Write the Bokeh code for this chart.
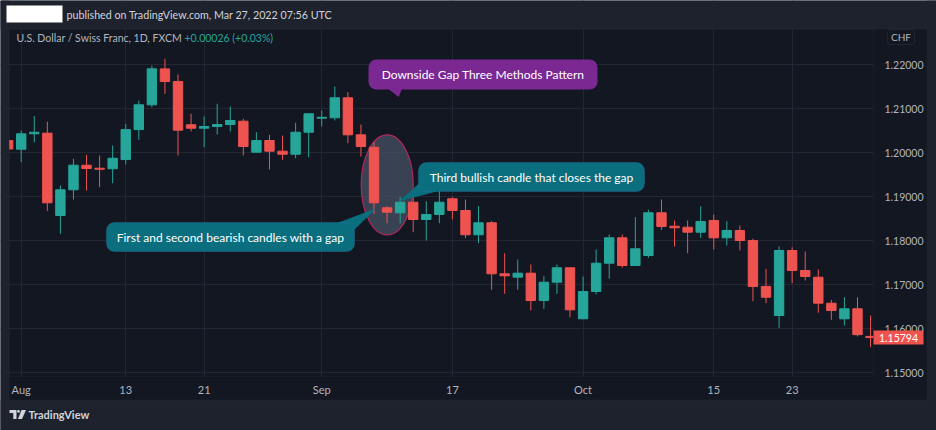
import numpy as np
from bokeh.plotting import figure
from bokeh.models import (ColumnDataSource, Range1d, FixedTicker, PrintfTickFormatter,
                          Label, BoxAnnotation, PolyAnnotation)
from bokeh.embed import file_html
from bokeh.resources import INLINE

# ---------------- data (USD/CHF daily, Jul 31 - Oct 30) ----------------
day_index = list(range(-1, 66))
opens = [1.20270, 1.20075, 1.20425, 1.20440, 1.18568, 1.19152, 1.19710, 1.19643, 1.19630, 1.19840,
         1.20520, 1.21084, 1.21900, 1.21614, 1.20630, 1.20552, 1.20590, 1.20636, 1.20711, 1.20007,
         1.20273, 1.20030, 1.19961, 1.20461, 1.20780, 1.20789, 1.21243, 1.20402, 1.20120, 1.18743,
         1.18630, 1.18870, 1.18477, 1.18591, 1.18948, 1.18682, 1.18130, 1.18402, 1.17243, 1.17166,
         1.17257, 1.16636, 1.17052, 1.17380, 1.16220, 1.16841, 1.17484, 1.18061, 1.17432, 1.17659,
         1.18630, 1.18325, 1.18302, 1.18189, 1.18455, 1.18061, 1.18227, 1.18000, 1.16955, 1.16295,
         1.17773, 1.17318, 1.17166, 1.16575, 1.16220, 1.16448, 1.15820]
highs = [1.20310, 1.20500, 1.20830, 1.20700, 1.19250, 1.19857, 1.19948, 1.19932, 1.20160, 1.20650,
         1.21180, 1.21977, 1.22130, 1.21773, 1.20880, 1.20818, 1.21107, 1.21045, 1.20766, 1.20461,
         1.20400, 1.20386, 1.20675, 1.20893, 1.20955, 1.21500, 1.21370, 1.20636, 1.20234, 1.18780,
         1.18984, 1.18984, 1.18893, 1.19227, 1.18984, 1.18932, 1.18780, 1.18439, 1.17711, 1.17568,
         1.17455, 1.17189, 1.17455, 1.17393, 1.17182, 1.17795, 1.18136, 1.18136, 1.18530, 1.18698,
         1.18932, 1.18455, 1.18455, 1.18780, 1.18591, 1.18439, 1.18341, 1.18039, 1.17357, 1.17864,
         1.17848, 1.17750, 1.17341, 1.16652, 1.16711, 1.16711, 1.16295]
lows = [1.20040, 1.19780, 1.20230, 1.18670, 1.18152, 1.18932, 1.19136, 1.19211, 1.19300, 1.19730,
        1.20290, 1.21030, 1.21334, 1.19932, 1.20477, 1.20120, 1.20410, 1.20477, 1.19932, 1.20000,
        1.19614, 1.19834, 1.19870, 1.19893, 1.20590, 1.20727, 1.20211, 1.19910, 1.18607, 1.18393,
        1.18393, 1.18189, 1.18000, 1.18393, 1.18477, 1.18052, 1.17939, 1.16880, 1.16789, 1.16880,
        1.16409, 1.16448, 1.16789, 1.16257, 1.16220, 1.16773, 1.17130, 1.17380, 1.17432, 1.17607,
        1.18243, 1.17864, 1.17711, 1.18061, 1.17795, 1.17886, 1.17773, 1.16620, 1.16575, 1.16016,
        1.17030, 1.17091, 1.16357, 1.16198, 1.16068, 1.15818, 1.15575]
closes = [1.20080, 1.20425, 1.20460, 1.18857, 1.19152, 1.19711, 1.19636, 1.19620, 1.19870, 1.20520,
          1.21084, 1.21902, 1.21614, 1.20507, 1.20552, 1.20590, 1.20636, 1.20727, 1.20136, 1.20273,
          1.20030, 1.19961, 1.20461, 1.20880, 1.20800, 1.21243, 1.20402, 1.20136, 1.18857, 1.18643,
          1.18870, 1.18477, 1.18591, 1.18870, 1.18682, 1.18130, 1.18402, 1.17243, 1.17198, 1.17257,
          1.16636, 1.17052, 1.17380, 1.16425, 1.16841, 1.17484, 1.18061, 1.17432, 1.17811, 1.18630,
          1.18318, 1.18289, 1.18189, 1.18432, 1.18061, 1.18227, 1.18000, 1.16955, 1.16711, 1.17773,
          1.17318, 1.17182, 1.16575, 1.16409, 1.16448, 1.15860, 1.15794]

tick_index = [0, 8, 14, 23, 33, 43, 53, 59]
tick_labels = ["Aug", "13", "21", "Sep", "17", "Oct", "15", "23"]
price_ticks = [1.15, 1.16, 1.17, 1.18, 1.19, 1.20, 1.21, 1.22]
last_price = 1.15794

header_text = "published on TradingView.com, Mar 27, 2022 07:56 UTC"
symbol_text = "U.S. Dollar / Swiss Franc, 1D, FXCM"
change_text = "+0.00026 (+0.03%)"
pattern_text = "Downside Gap Three Methods Pattern"
third_text = "Third bullish candle that closes the gap"
first_text = "First and second bearish candles with a gap"

# ---------------- layout helpers (canvas pixel -> data space) ----------------
X0, DX = 20.7, 13.067      # pixel of first bar, pixels per bar
Y0, P0, DY = 64.0, 1.22, 4400.0
W, H = 936, 430


def dx(px):
    return (px - X0) / DX


def dy(py):
    return P0 - (py - Y0) / DY


UP, DOWN = "#26a69a", "#ef5350"
PANEL, FRAME_BG, EDGE = "#1e222d", "#131722", "#2a2e39"
FONT = "Lato"

o = np.array(opens); h = np.array(highs); l = np.array(lows); c = np.array(closes)
colors = [UP if cc >= oo else DOWN for oo, cc in zip(opens, closes)]
src = ColumnDataSource(dict(x=day_index, top=np.maximum(o, c), bottom=np.minimum(o, c),
                            high=h, low=l, color=colors))

p = figure(width=W, height=H, output_backend="svg", toolbar_location=None,
           x_range=Range1d(dx(0), dx(W)), y_range=Range1d(dy(H), dy(0)),
           y_axis_location="right", min_border=0,
           background_fill_color=FRAME_BG, border_fill_color=PANEL,
           outline_line_color=None)

# axes drawn at fixed locations inside the canvas
ya = p.yaxis[0]
ya.ticker = FixedTicker(ticks=price_ticks)
ya.formatter = PrintfTickFormatter(format="%.5f")
ya.fixed_location = dx(873)
xa = p.xaxis[0]
xa.ticker = FixedTicker(ticks=tick_index)
xa.major_label_overrides = {t: s for t, s in zip(tick_index, tick_labels)}
xa.fixed_location = dy(376)
for ax in (xa, ya):
    ax.major_tick_line_color = None
    ax.minor_tick_line_color = None
    ax.axis_line_color = None
    ax.major_label_text_color = "#b2b5be"
    ax.major_label_text_font = FONT
ya.major_label_text_font_size = "10.5px"
xa.major_label_text_font_size = "11px"
ya.major_label_standoff = 5
xa.major_label_standoff = 0

p.xgrid.ticker = FixedTicker(ticks=tick_index)
p.ygrid.ticker = FixedTicker(ticks=price_ticks)
p.xgrid.grid_line_color = "#232633"
p.ygrid.grid_line_color = "#232633"

# highlighted ellipse (behind candles)
p.ellipse(x=[dx(386.7)], y=[dy(184.3)], width=[52 / DX], height=[100 / DY],
          fill_color="#4a5568", fill_alpha=0.7, line_color="#b0285f", line_width=1.2)

# candles
p.segment(x0="x", y0="low", x1="x", y1="high", color="color", line_width=1, source=src)
p.vbar(x="x", width=0.72, top="top", bottom="bottom", fill_color="color",
       line_color="color", line_width=1, source=src)


def band(x0, x1, y0, y1, fill, line=None, level="glyph", radius=0, alpha=1):
    p.add_layout(BoxAnnotation(left=dx(x0), right=dx(x1), top=dy(y0), bottom=dy(y1),
                               fill_color=fill, fill_alpha=alpha, line_color=line,
                               line_width=1, border_radius=radius, level=level))


# panels around the chart area (masks drawn after the candles and grid)
band(873, 927, 28.5, 400, FRAME_BG)          # price scale column
band(8.5, 873, 376, 400, FRAME_BG)           # time scale row
band(0, W, 0, 28.5, PANEL)                   # header band
band(0, W, 399.5, H, PANEL)                  # footer band
band(0, 8.5, 0, H, PANEL)                    # left edge
band(926.5, W, 0, H, PANEL)                  # right edge
band(8.5, 926.5, 28.5, 399.5, None, EDGE)    # chart panel border
band(8.5, 873, 28.5, 376, None, EDGE)        # plotting area border


def bubble(x0, x1, y0, y1, tail, fill, line, text, fs):
    band(x0, x1, y0, y1, fill, line, level="annotation", radius=8)
    p.patch([dx(t[0]) for t in tail], [dy(t[1]) for t in tail], fill_color=fill,
            line_color=fill, level="annotation")
    p.add_layout(Label(x=dx((x0 + x1) / 2), y=dy((y0 + y1) / 2), text=text,
                       text_align="center", text_baseline="middle", text_color="#ffffff",
                       text_font=FONT, text_font_size=fs, level="annotation"))


bubble(368, 597, 59, 89, [(388, 88), (401, 88), (398, 96)], "#7b2893", None,
       pattern_text, "12px")
bubble(418, 644, 162, 191, [(419, 183), (436, 190.5), (400, 200)], "#0b6e7e", "#2f7fb5",
       third_text, "12px")
bubble(106, 354, 222, 251, [(338, 222.5), (353.5, 229), (374, 209)], "#0b6e7e", "#2f7fb5",
       first_text, "12px")

# header / titles
band(6, 62, 5, 22, "#ffffff", level="annotation")
p.add_layout(Label(x=dx(66), y=dy(13.5), text=header_text, text_baseline="middle",
                   text_color="#d1d4dc", text_font=FONT, text_font_size="10.7px"))
p.add_layout(Label(x=dx(16), y=dy(37.5), text=symbol_text, text_baseline="middle",
                   text_color="#b2b5be", text_font=FONT, text_font_size="10.5px"))
p.add_layout(Label(x=dx(184), y=dy(37.5), text=change_text, text_baseline="middle",
                   text_color=UP, text_font=FONT, text_font_size="10.5px"))

# currency box
band(887, 914, 29, 44, FRAME_BG, "#434651", level="annotation", radius=3)
p.add_layout(Label(x=dx(900.5), y=dy(36.5), text="CHF", text_align="center",
                   text_baseline="middle", text_color="#b2b5be", text_font=FONT,
                   text_font_size="10px"))

# last price tag
p.add_layout(BoxAnnotation(left=dx(873), right=dx(923), top=last_price + 7 / DY,
                           bottom=last_price - 7 / DY, fill_color=DOWN, fill_alpha=1,
                           line_color=None, level="overlay"))
p.add_layout(Label(x=dx(898), y=last_price, text=f"{last_price:.5f}", text_align="center",
                   text_baseline="middle", text_color="#ffffff", text_font=FONT,
                   text_font_size="10.5px", level="overlay"))

# footer logo
p.add_layout(PolyAnnotation(xs=[dx(9), dx(16), dx(16), dx(12.8), dx(12.8), dx(9)],
                            ys=[dy(409.5), dy(409.5), dy(418.5), dy(418.5), dy(412.5), dy(412.5)],
                            fill_color="#d1d4dc", fill_alpha=1, line_color=None))
band(16.6, 19.4, 409.5, 412.3, "#d1d4dc", level="annotation", radius=2)
p.add_layout(PolyAnnotation(xs=[dx(21), dx(25.5), dx(21.5), dx(17.5)],
                            ys=[dy(409.5), dy(409.5), dy(418.5), dy(418.5)],
                            fill_color="#d1d4dc", fill_alpha=1, line_color=None))
p.add_layout(Label(x=dx(28), y=dy(414), text="TradingView", text_baseline="middle",
                   text_color="#d1d4dc", text_font=FONT, text_font_size="11px",
                   text_font_style="bold"))

open("out.html", "w").write(file_html(p, INLINE))
